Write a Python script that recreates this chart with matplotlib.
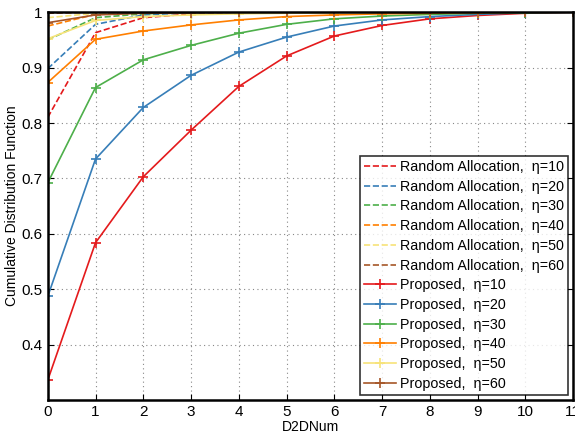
import matplotlib
matplotlib.use('Agg')
import matplotlib.pyplot as plt
import numpy as np

plt.rcParams['font.family'] = ['Liberation Sans', 'DejaVu Sans']

d2d = np.arange(12)
etas = [10, 20, 30, 40, 50, 60]
colores = ['#e41a1c', '#377eb8', '#4daf4a', '#ff7f00', '#f7e379', '#a65628']

# CDF del esquema aleatorio
random_cdf = [
    [0.810, 0.963, 0.990, 0.997, 0.999, 1.0, 1.0, 1.0, 1.0, 1.0, 1.0, 1.0],
    [0.898, 0.978, 0.995, 0.999, 1.0, 1.0, 1.0, 1.0, 1.0, 1.0, 1.0, 1.0],
    [0.950, 0.990, 0.997, 0.999, 1.0, 1.0, 1.0, 1.0, 1.0, 1.0, 1.0, 1.0],
    [0.975, 0.996, 0.999, 1.0, 1.0, 1.0, 1.0, 1.0, 1.0, 1.0, 1.0, 1.0],
    [0.990, 0.998, 1.0, 1.0, 1.0, 1.0, 1.0, 1.0, 1.0, 1.0, 1.0, 1.0],
    [0.998, 1.0, 1.0, 1.0, 1.0, 1.0, 1.0, 1.0, 1.0, 1.0, 1.0, 1.0],
]

# CDF del esquema propuesto
proposed_cdf = [
    [0.336, 0.584, 0.703, 0.787, 0.866, 0.921, 0.957, 0.976, 0.988, 0.994, 0.998, 1.0],
    [0.487, 0.735, 0.828, 0.886, 0.928, 0.955, 0.975, 0.986, 0.992, 0.996, 0.999, 1.0],
    [0.692, 0.864, 0.914, 0.940, 0.962, 0.978, 0.988, 0.993, 0.996, 0.998, 0.999, 1.0],
    [0.873, 0.951, 0.966, 0.977, 0.986, 0.992, 0.995, 0.997, 0.998, 0.999, 1.0, 1.0],
    [0.952, 0.985, 0.992, 0.995, 0.997, 0.998, 0.999, 1.0, 1.0, 1.0, 1.0, 1.0],
    [0.981, 0.995, 0.998, 0.999, 1.0, 1.0, 1.0, 1.0, 1.0, 1.0, 1.0, 1.0],
]

fig = plt.figure(figsize=(5.75, 4.34), dpi=100)
ax = fig.add_axes([0.083, 0.078, 0.914, 0.894])

for eta, c, ys in zip(etas, colores, random_cdf):
    ax.plot(d2d, ys, '--', color=c, linewidth=1.2,
            label='Random Allocation,  \u03b7=%d' % eta)
for eta, c, ys in zip(etas, colores, proposed_cdf):
    ax.plot(d2d, ys, '-', color=c, linewidth=1.2, marker='+', markersize=7,
            markeredgewidth=1.2, label='Proposed,  \u03b7=%d' % eta)

ax.set_xlim(0, 11)
ax.set_ylim(0.3, 1.0)
ax.set_xticks(range(12))
ax.set_yticks([0.4, 0.5, 0.6, 0.7, 0.8, 0.9, 1.0])
ax.set_yticklabels(['0.4', '0.5', '0.6', '0.7', '0.8', '0.9', '1'])
ax.grid(True, linestyle=(0, (1, 3)), color='#888888', linewidth=0.8)
ax.tick_params(direction='in', top=True, right=True, labelsize=11, length=4)
for s in ax.spines.values():
    s.set_linewidth(1.8)
ax.set_xlabel('D2DNum', fontsize=10, labelpad=1)
ax.set_ylabel('Cumulative Distribution Function', fontsize=10, labelpad=2)

leg = ax.legend(loc='lower right', fontsize=10.3, frameon=True, fancybox=False,
                handlelength=2.2, handletextpad=0.3, labelspacing=0.4,
                borderpad=0.3, borderaxespad=0.35)
leg.get_frame().set_edgecolor('black')
leg.get_frame().set_linewidth(1.2)

fig.savefig('out.png', dpi=100)
